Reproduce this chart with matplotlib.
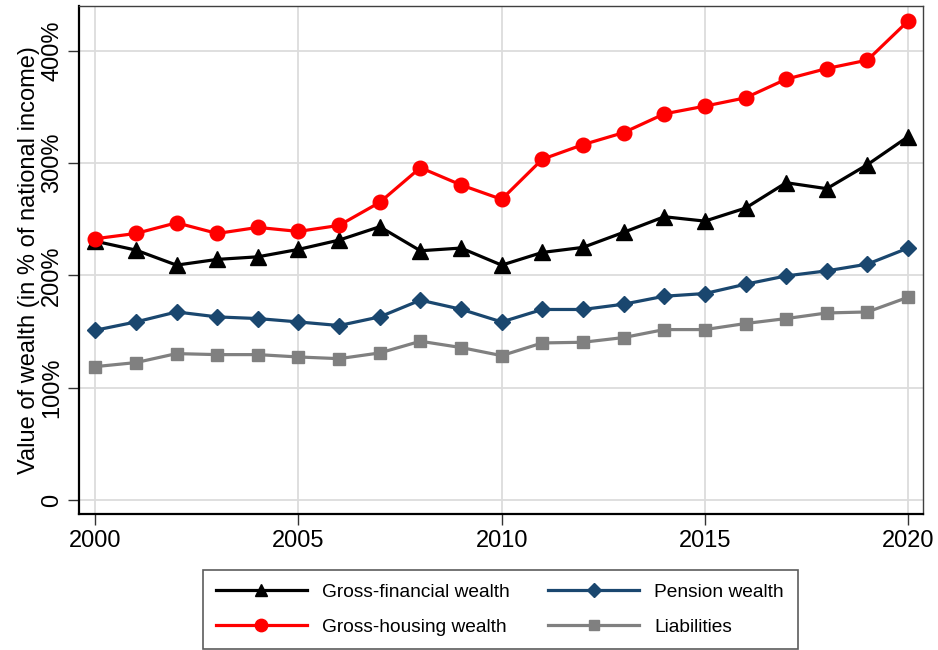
import matplotlib
matplotlib.use("Agg")
import matplotlib.pyplot as plt
from matplotlib.ticker import FuncFormatter

plt.rcParams['font.family'] = ['Liberation Sans', 'DejaVu Sans']

years = list(range(2000, 2021))

gross_financial = [230.5, 222.6, 209.2, 214.3, 216.6, 223.2, 231.5, 243.4, 222.0, 224.4, 209.2,
                   220.5, 225.0, 238.4, 252.3, 248.4, 260.0, 282.6, 277.3, 298.7, 323.6]
gross_housing = [232.7, 237.4, 246.9, 237.4, 242.8, 239.2, 244.6, 265.1, 296.0, 280.6, 267.8,
                 303.5, 316.5, 327.2, 343.9, 350.8, 358.2, 374.8, 384.3, 391.8, 426.6]
pension = [151.2, 158.6, 167.5, 163.1, 161.6, 158.6, 155.4, 163.1, 178.0, 169.9, 158.6,
           169.7, 169.7, 174.4, 181.5, 183.9, 192.2, 199.6, 204.1, 210.1, 224.4]
liabilities = [118.8, 122.4, 130.4, 129.5, 129.5, 127.4, 125.9, 131.0, 141.4, 135.8, 128.6,
               139.9, 140.5, 144.7, 151.8, 151.8, 157.2, 161.6, 166.6, 167.5, 180.6]

series_labels = ["Gross-financial wealth", "Gross-housing wealth", "Pension wealth", "Liabilities"]

fig = plt.figure(figsize=(9.38, 6.5), dpi=100)
ax = fig.add_axes([0.0842, 0.2088, 0.8995, 0.782])

lw = 2.3
h1, = ax.plot(years, gross_financial, color='black', lw=lw, marker='^', ms=11, label=series_labels[0])
h2, = ax.plot(years, gross_housing, color='#ff0000', lw=lw, marker='o', ms=10.5, label=series_labels[1])
h3, = ax.plot(years, pension, color='#1a476f', lw=lw, marker='D', ms=8.5, label=series_labels[2])
h4, = ax.plot(years, liabilities, color='#808080', lw=lw, marker='s', ms=8.5, label=series_labels[3])

ax.set_xlim(1999.6, 2020.36)
ax.set_ylim(-12.7, 440)
ax.set_xticks([2000, 2005, 2010, 2015, 2020])
ax.set_yticks([0, 100, 200, 300, 400])
ax.yaxis.set_major_formatter(FuncFormatter(lambda v, p: "0" if v == 0 else f"{int(v)}%"))

ax.grid(True, color='#dcdcdc', lw=1.3)
ax.set_axisbelow(True)

for s in ['left', 'bottom']:
    ax.spines[s].set_color('black')
    ax.spines[s].set_linewidth(1.6)
for s in ['top', 'right']:
    ax.spines[s].set_color('#404040')
    ax.spines[s].set_linewidth(1.0)

ax.tick_params(axis='both', labelsize=17, length=8, width=1.0, color='#333333')
ax.tick_params(axis='x', pad=3)
for lab in ax.get_yticklabels():
    lab.set_rotation(90)
    lab.set_va('center')
ax.set_ylabel("Value of wealth (in % of national income)", fontsize=17, labelpad=0.5)

leg = fig.legend(handles=[h1, h2, h3, h4], ncol=2, loc='upper left',
                 bbox_to_anchor=(203 / 938, 1 - 570 / 650), fontsize=13.8,
                 frameon=True, fancybox=False, edgecolor='#333333',
                 handlelength=4.7, handletextpad=0.83, columnspacing=2.0,
                 borderpad=0.7, labelspacing=0.9, borderaxespad=0, markerscale=0.85)
leg.get_frame().set_linewidth(1.2)

fig.savefig("out.png", dpi=100)
